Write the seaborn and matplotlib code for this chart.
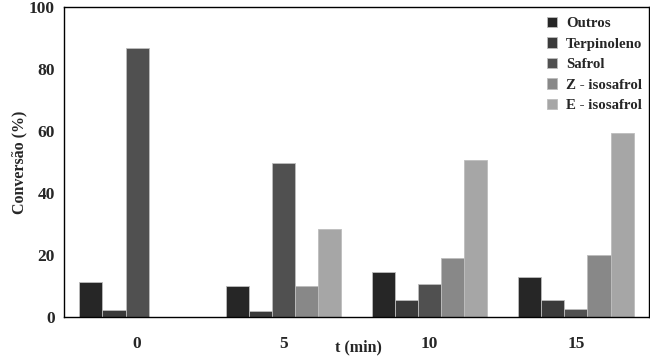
import matplotlib
matplotlib.use("Agg")
import matplotlib.pyplot as plt
import seaborn as sns
import pandas as pd

times = ["0", "5", "10", "15"]
series = ["Outros", "Terpinoleno", "Safrol", "Z - isosafrol", "E - isosafrol"]
outros = [11.2, 9.9, 14.4, 12.8]
terpinoleno = [2.2, 1.9, 5.4, 5.4]
safrol = [86.8, 49.8, 10.8, 2.6]
z_isosafrol = [0.0, 9.9, 19.1, 20.1]
e_isosafrol = [0.0, 28.4, 50.7, 59.3]
colors = ["#262626", "#3a3a3a", "#505050", "#888888", "#a6a6a6"]

rows = []
for name, vals in zip(series, [outros, terpinoleno, safrol, z_isosafrol, e_isosafrol]):
    for t, v in zip(times, vals):
        rows.append({"t": t, "serie": name, "valor": v})
df = pd.DataFrame(rows)

sns.set_style("white")
plt.rcParams["font.family"] = ["Liberation Serif", "DejaVu Serif"]
plt.rcParams["font.weight"] = "bold"

fig = plt.figure(figsize=(6.5, 3.56), dpi=100)
ax = fig.add_axes([64/650, 1-317/356, 585/650, 310/356])
sns.barplot(data=df, x="t", y="valor", hue="serie", order=times, hue_order=series,
            palette=colors, width=0.79, edgecolor="#bdbdbd", linewidth=0.6, ax=ax)

ax.set_ylim(0, 100)
ax.set_xlim(-0.5, 3.5)
ax.set_yticks([0, 20, 40, 60, 80, 100])
ax.tick_params(axis="y", length=2.5, width=0.8, color="#888888", pad=4, labelsize=12.5)
ax.tick_params(axis="x", which="major", length=0, pad=14, labelsize=12.5)
ax.set_xticks([0.5, 1.5, 2.5], minor=True)
ax.tick_params(axis="x", which="minor", length=5, color="#888888", width=0.8)
for lab in ax.get_xticklabels() + ax.get_yticklabels():
    lab.set_fontweight("bold")

for s in ax.spines.values():
    s.set_visible(True)
    s.set_color("black")
    s.set_linewidth(1.0)

ax.set_ylabel("Conversão (%)", fontsize=11.5, fontweight="bold")
ax.yaxis.set_label_coords(-0.062, 0.5)
ax.set_xlabel("t (min)", fontsize=11.5, fontweight="bold")
ax.xaxis.set_label_coords(0.503, -0.073)

leg = ax.legend(loc="upper right", bbox_to_anchor=(1.005, 1.0), frameon=False,
                fontsize=10.7, handlelength=0.7, handleheight=0.7, handletextpad=0.6,
                labelspacing=0.48, borderaxespad=0.25)
for t in leg.get_texts():
    t.set_fontweight("bold")

fig.savefig("out.png", dpi=100)
